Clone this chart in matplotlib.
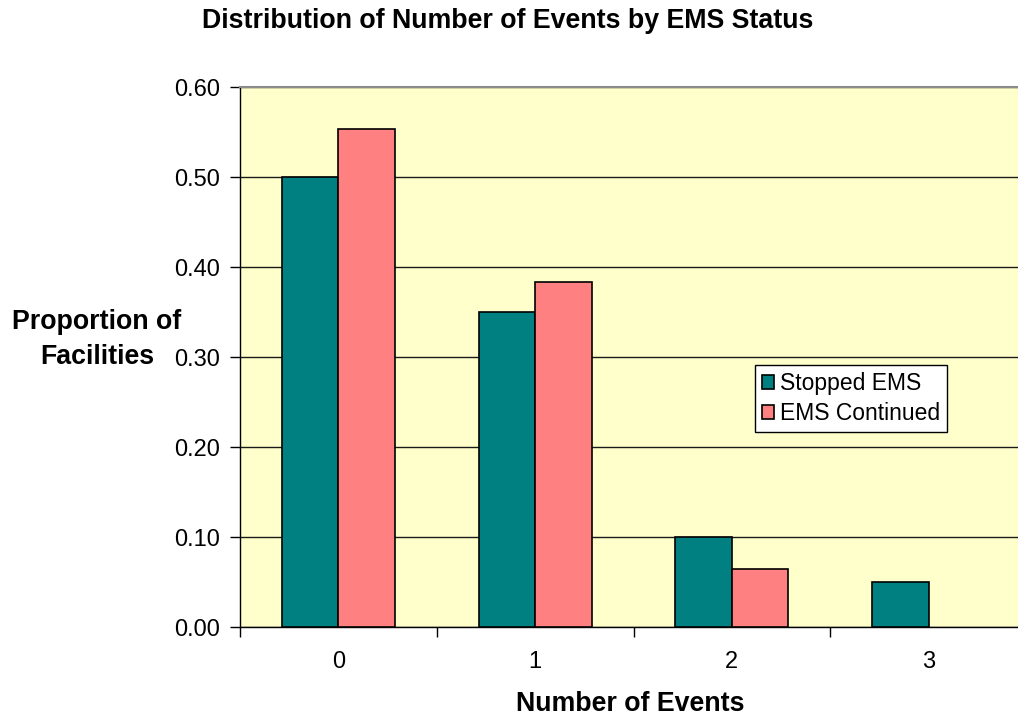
import matplotlib
matplotlib.use("Agg")
import matplotlib.pyplot as plt
import numpy as np

plt.rcParams['font.family'] = ['Liberation Sans', 'DejaVu Sans']

# Proportion of facilities by number of events
categories = ["0", "1", "2", "3"]
stopped_ems = [0.50, 0.35, 0.10, 0.05]
ems_continued = [0.553, 0.383, 0.064, 0.0]
series_labels = ["Stopped EMS", "EMS Continued"]
y_ticks = [0.0, 0.1, 0.2, 0.3, 0.4, 0.5, 0.6]

teal = "#008080"
salmon = "#FF8080"
panel = "#FFFFCC"

fig = plt.figure(figsize=(10.18, 7.19), dpi=100)
ax = fig.add_axes([240 / 1018, 1 - 627 / 719, 787 / 1018, 540 / 719])
ax.set_facecolor(panel)

x = np.arange(len(categories))
w = 0.2875


def edge_widths(values):
    # no outline on empty bars
    return [1.2 if v > 0 else 0 for v in values]


ax.bar(x - w / 2, stopped_ems, width=w, color=teal, edgecolor="black",
       linewidth=edge_widths(stopped_ems), label=series_labels[0], zorder=3)
ax.bar(x + w / 2, ems_continued, width=w, color=salmon, edgecolor="black",
       linewidth=edge_widths(ems_continued), label=series_labels[1], zorder=3)

ax.set_ylim(0, 0.6)
ax.set_yticks(y_ticks)
ax.set_yticklabels([f"{v:.2f}" for v in y_ticks], fontsize=17)
ax.yaxis.grid(True, color="#1a1a1a", linewidth=1.0, zorder=1)
ax.set_axisbelow(True)

ax.set_xlim(-0.5, len(categories) - 0.5)
ax.set_xticks(np.arange(len(categories) + 1) - 0.5)
ax.set_xticklabels([])
ax.set_xticks(x, minor=True)
ax.set_xticklabels(categories, minor=True, fontsize=17)
ax.tick_params(axis="x", which="minor", length=0, pad=17)
ax.tick_params(axis="both", which="major", length=7, width=1, direction="out",
               color="black")
ax.tick_params(axis="y", pad=7.5)

for side in ("left", "bottom"):
    ax.spines[side].set_color("black")
    ax.spines[side].set_linewidth(1.0)
ax.spines["top"].set_color("#8c8c8c")
ax.spines["top"].set_linewidth(1.5)
ax.spines["right"].set_visible(False)

bold = dict(fontsize=19.3, fontweight="bold", va="center")
fig.text(508 / 1018, 1 - 21 / 719, "Distribution of Number of Events by EMS Status",
         ha="center", **bold)
fig.text(97 / 1018, 1 - 322 / 719, "Proportion of", ha="center", **bold)
fig.text(97 / 1018, 1 - 357 / 719, "Facilities", ha="center", **bold)
fig.text(630 / 1018, 1 - 704 / 719, "Number of Events", ha="center", **bold)

leg = ax.legend(loc="upper left", bbox_to_anchor=(0.654, 0.485), borderaxespad=0,
                fontsize=16.5, frameon=True, fancybox=False, edgecolor="black",
                framealpha=1, handlelength=0.55, handleheight=0.55,
                handletextpad=0.25, borderpad=0.3, labelspacing=0.3)
leg.get_frame().set_linewidth(1.0)

fig.savefig("out.png", dpi=100)
